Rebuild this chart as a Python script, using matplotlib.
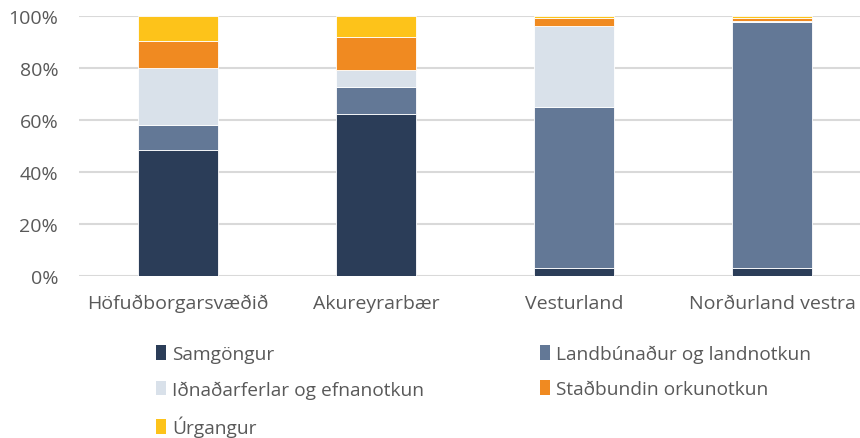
import matplotlib
matplotlib.use("Agg")
import matplotlib.pyplot as plt
from matplotlib.patches import Patch
import numpy as np

plt.rcParams['font.family'] = ['Open Sans', 'DejaVu Sans']

categories = ["Höfuðborgarsvæðið", "Akureyrarbær", "Vesturland", "Norðurland vestra"]
series_names = ["Samgöngur", "Landbúnaður og landnotkun", "Iðnaðarferlar og efnanotkun",
                "Staðbundin orkunotkun", "Úrgangur"]
samgongur = [48.5, 62.3, 3.1, 3.1]
landbunadur = [9.5, 10.2, 61.9, 94.6]
idnadur = [21.8, 6.5, 31.2, 0.3]
stadbundin = [10.4, 12.9, 2.8, 1.2]
urgangur = [9.8, 8.1, 1.0, 0.8]
colors = ["#2B3D58", "#637896", "#D9E1EA", "#F08A21", "#FDC31A"]
ytick_labels = ["0%", "20%", "40%", "60%", "80%", "100%"]

values = [samgongur, landbunadur, idnadur, stadbundin, urgangur]

fig = plt.figure(figsize=(8.6, 4.39), dpi=100)
ax = fig.add_axes([79/860, 1-276.7/439, 1-79/860, (276.7-16.7)/439])

x = np.arange(len(categories))
bottom = np.zeros(len(categories))
handles = []
for name, vals, c in zip(series_names, values, colors):
    ax.bar(x, vals, width=0.4, bottom=bottom, color=c, edgecolor="white", linewidth=0.6, zorder=3)
    bottom += np.array(vals)
    handles.append(Patch(facecolor=c, edgecolor='none', label=name))

ax.set_ylim(0, 100)
ax.set_xlim(-0.5, 3.5 - 11/198)
ax.set_yticks([0, 20, 40, 60, 80, 100])
ax.set_yticklabels(ytick_labels)
ax.set_xticks(x)
ax.set_xticklabels(categories)
ax.yaxis.grid(True, color="#D9D9D9", linewidth=1.5, zorder=0)
ax.set_axisbelow(True)
for s in ax.spines.values():
    s.set_visible(False)
ax.tick_params(axis='both', length=0, labelsize=14, labelcolor="#595959")
ax.tick_params(axis='y', pad=15)
ax.tick_params(axis='x', pad=13)

order = [0, 2, 4, 1, 3]
leg = fig.legend([handles[i] for i in order], [series_names[i] for i in order],
                 ncol=2, loc='upper left', bbox_to_anchor=(148/860, 1-338/439),
                 frameon=False, fontsize=13.8, labelcolor="#595959",
                 handlelength=0.55, handleheight=0.8, handletextpad=0.3,
                 columnspacing=6.05, labelspacing=0.9, borderaxespad=0)

fig.savefig("out.png", dpi=100)
